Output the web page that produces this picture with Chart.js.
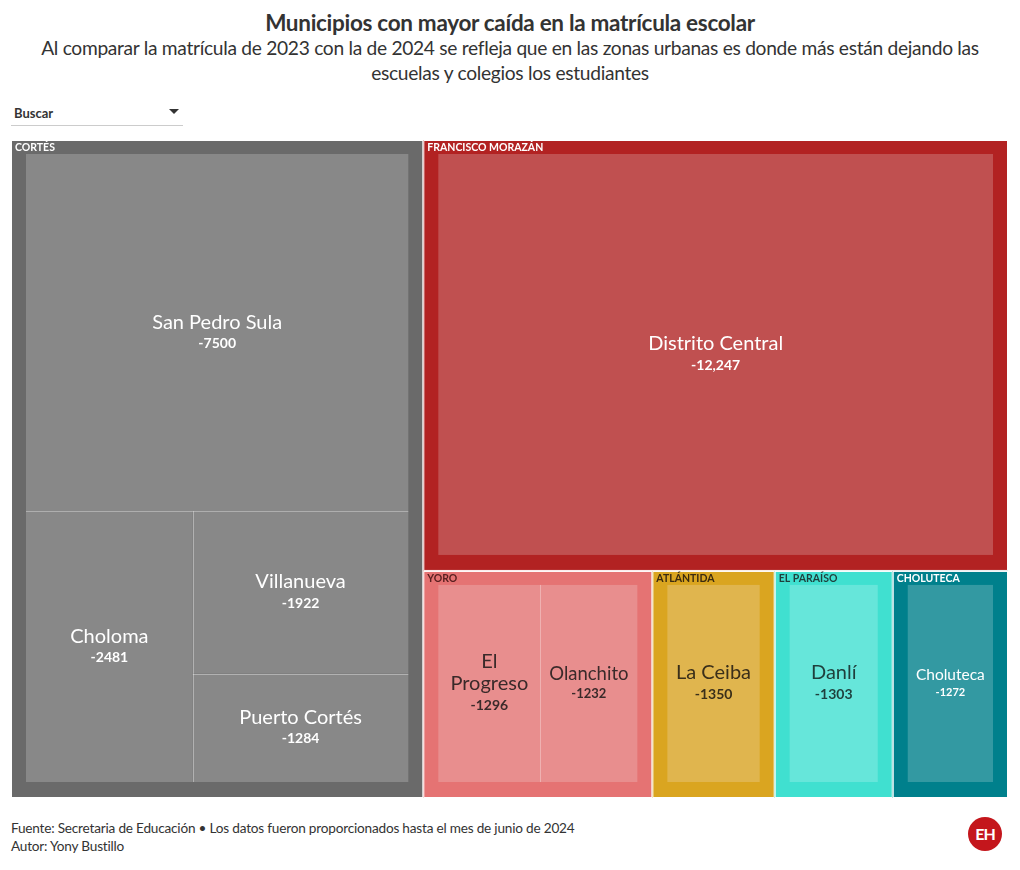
<!DOCTYPE html>
<html>
<head>
<meta charset="utf-8">
<script src="https://cdn.jsdelivr.net/npm/chart.js@4.4.1/dist/chart.umd.min.js"></script>
<style>
  body { margin: 0; background: #fff; font-family: Lato, "Noto Sans", sans-serif; color: #333; }
  #page { position: relative; width: 1020px; height: 870px; }
  #title { position: absolute; top: 9px; left: 0; width: 1020px; text-align: center; font-size: 22.5px; font-weight: bold; color: #333; letter-spacing: -0.3px; }
  #subtitle { position: absolute; top: 35px; left: 0; width: 1020px; text-align: center; font-size: 19.2px; line-height: 25px; color: #333; letter-spacing: -0.3px; }
  #search { position: absolute; top: 103px; left: 11px; width: 172px; height: 22px; border-bottom: 1px solid #ccc; font-size: 13px; font-weight: bold; }
  #search span { position: absolute; left: 3px; top: 2px; }
  #search i { position: absolute; right: 4px; top: 6px; width: 0; height: 0; border-left: 5px solid transparent; border-right: 5px solid transparent; border-top: 5px solid #333; }
  #wrap { position: absolute; left: 11px; top: 140px; width: 997px; height: 658px; }
  #footer { position: absolute; left: 11px; top: 819px; font-size: 13.6px; line-height: 18px; color: #333; letter-spacing: -0.2px; }
  #logo { position: absolute; left: 968px; top: 817px; width: 34px; height: 34px; border-radius: 50%; background: #c4161c; color: #fff; font-weight: bold; font-size: 16px; line-height: 34px; text-align: center; letter-spacing: -1px; }
</style>
</head>
<body>
<div id="page">
  <div id="title">Municipios con mayor caída en la matrícula escolar</div>
  <div id="subtitle">Al comparar la matrícula de 2023 con la de 2024 se refleja que en las zonas urbanas es donde más están dejando las<br>escuelas y colegios los estudiantes</div>
  <div id="search"><span>Buscar</span><i></i></div>
  <div id="wrap"><canvas id="chart"></canvas></div>
  <div id="footer">Fuente: Secretaria de Educación • Los datos fueron proporcionados hasta el mes de junio de 2024<br>Autor: Yony Bustillo</div>
  <div id="logo">EH</div>
</div>
<script>
const departments = ['Cortés', 'Francisco Morazán', 'Yoro', 'Atlántida', 'El Paraíso', 'Choluteca'];
const municipalities = ['San Pedro Sula', 'Choloma', 'Villanueva', 'Puerto Cortés', 'Distrito Central', 'El Progreso', 'Olanchito', 'La Ceiba', 'Danlí', 'Choluteca'];
const municipalityDept = ['Cortés', 'Cortés', 'Cortés', 'Cortés', 'Francisco Morazán', 'Yoro', 'Yoro', 'Atlántida', 'El Paraíso', 'Choluteca'];
const enrollmentDrop = [-7500, -2481, -1922, -1284, -12247, -1296, -1232, -1350, -1303, -1272];

const deptColors = ['#6a6a6a', '#b22222', '#e57373', '#daa520', '#40e0d0', '#00808c'];
const cellColors = ['#888888', '#c05050', '#e88e8e', '#e0b54e', '#66e6da', '#3399a2'];
const textColors = ['#ffffff', '#ffffff', '#3a2a2a', '#3a2f1a', '#1f3f3c', '#ffffff'];
const headerColors = ['#ffffff', '#ffffff', '#5a2020', '#3a2a10', '#1f3f3c', '#ffffff'];

const FONT = 'Lato, "Noto Sans", sans-serif';

function fmt(v) {
  const a = Math.abs(v);
  const s = a >= 10000 ? a.toLocaleString('en-US') : String(a);
  return (v < 0 ? '-' : '') + s;
}

// squarified layout, items need .v (positive), sorted descending
function squarify(items, rect) {
  const out = [];
  let { x, y, w, h } = rect;
  let rest = items.slice();
  let remaining = rest.reduce((a, b) => a + b.v, 0);
  while (rest.length) {
    const side = Math.min(w, h);
    const worst = row => {
      const s = row.reduce((a, b) => a + b.v, 0);
      const thick = (s / remaining) * (w * h) / side;
      return Math.max(...row.map(it => {
        const len = it.v / s * side;
        return Math.max(len / thick, thick / len);
      }));
    };
    let k = 1;
    while (k < rest.length && worst(rest.slice(0, k + 1)) <= worst(rest.slice(0, k))) k++;
    const row = rest.slice(0, k);
    const s = row.reduce((a, b) => a + b.v, 0);
    if (w < h) {
      const thick = s / remaining * h;
      let cx = x;
      row.forEach(it => {
        const cw = it.v / s * w;
        out.push({ item: it, x: cx, y: y, w: cw, h: thick });
        cx += cw;
      });
      y += thick; h -= thick;
    } else {
      const thick = s / remaining * w;
      let cy = y;
      row.forEach(it => {
        const ch = it.v / s * h;
        out.push({ item: it, x: x, y: cy, w: thick, h: ch });
        cy += ch;
      });
      x += thick; w -= thick;
    }
    remaining -= s;
    rest = rest.slice(k);
  }
  return out;
}

function fitLabel(ctx, text, maxW) {
  let size = 20;
  ctx.font = `${size}px ${FONT}`;
  if (ctx.measureText(text).width <= maxW) return { size, lines: [text] };
  const words = text.split(' ');
  if (words.length > 1 && words.every(wd => ctx.measureText(wd).width <= maxW)) {
    const lines = [];
    let cur = '';
    words.forEach(wd => {
      const t = cur ? cur + ' ' + wd : wd;
      if (ctx.measureText(t).width <= maxW) cur = t;
      else { lines.push(cur); cur = wd; }
    });
    lines.push(cur);
    return { size, lines };
  }
  while (size > 10) {
    size -= 0.5;
    ctx.font = `${size}px ${FONT}`;
    if (ctx.measureText(text).width <= maxW) break;
  }
  return { size, lines: [text] };
}

const treemapPlugin = {
  id: 'treemap',
  afterDatasetsDraw(chart) {
    const ctx = chart.ctx;
    const sx = chart.scales.x, sy = chart.scales.y;
    const left = sx.getPixelForValue(0), right = sx.getPixelForValue(1);
    const top = sy.getPixelForValue(1), bottom = sy.getPixelForValue(0);

    const groups = departments.map((d, i) => {
      const kids = [];
      municipalities.forEach((m, j) => {
        if (municipalityDept[j] === d) kids.push({ name: m, value: enrollmentDrop[j], v: Math.abs(enrollmentDrop[j]) });
      });
      kids.sort((a, b) => b.v - a.v);
      return { name: d, idx: i, kids, v: kids.reduce((a, b) => a + b.v, 0) };
    }).sort((a, b) => b.v - a.v);

    const groupRects = squarify(groups, { x: left, y: top, w: right - left, h: bottom - top });
    ctx.save();
    groupRects.forEach(gr => {
      const g = gr.item;
      ctx.fillStyle = deptColors[g.idx];
      ctx.fillRect(gr.x, gr.y, gr.w, gr.h);
      ctx.strokeStyle = '#ffffff';
      ctx.lineWidth = 1;
      ctx.strokeRect(gr.x + 0.5, gr.y + 0.5, gr.w - 1, gr.h - 1);

      ctx.fillStyle = headerColors[g.idx];
      ctx.font = `bold 10.5px ${FONT}`;
      ctx.textAlign = 'left';
      ctx.textBaseline = 'middle';
      ctx.fillText(g.name.toUpperCase(), gr.x + 4, gr.y + 7.5);

      const inner = { x: gr.x + 15, y: gr.y + 14, w: gr.w - 30, h: gr.h - 30 };
      const cells = squarify(g.kids, inner);
      cells.forEach(c => {
        ctx.fillStyle = cellColors[g.idx];
        ctx.fillRect(c.x, c.y, c.w, c.h);
      });
      // thin separators between neighbouring cells only
      ctx.strokeStyle = 'rgba(255,255,255,0.35)';
      ctx.lineWidth = 1;
      cells.forEach(c => {
        ctx.beginPath();
        if (c.x > inner.x + 1) {
          const px = Math.round(c.x) + 0.5;
          ctx.moveTo(px, c.y); ctx.lineTo(px, c.y + c.h);
        }
        if (c.y > inner.y + 1) {
          const py = Math.round(c.y) + 0.5;
          ctx.moveTo(c.x, py); ctx.lineTo(c.x + c.w, py);
        }
        ctx.stroke();
      });

      cells.forEach(c => {
        const lab = fitLabel(ctx, c.item.name, c.w - 16);
        const lineH = lab.size * 1.1;
        const valSize = Math.max(11, Math.round(lab.size * 0.72));
        const valH = valSize * 1.5;
        const blockH = lab.lines.length * lineH + valH;
        let yy = c.y + c.h / 2 - blockH / 2 + lineH / 2;
        ctx.fillStyle = textColors[g.idx];
        ctx.textAlign = 'center';
        ctx.font = `${lab.size}px ${FONT}`;
        lab.lines.forEach(l => {
          ctx.fillText(l, c.x + c.w / 2, yy);
          yy += lineH;
        });
        yy += (valH - lineH) / 2;
        ctx.font = `bold ${valSize}px ${FONT}`;
        ctx.fillText(fmt(c.item.value), c.x + c.w / 2, yy);
      });
    });
    ctx.restore();
  }
};

new Chart(document.getElementById('chart'), {
  type: 'scatter',
  data: { datasets: [{ data: [] }] },
  options: {
    responsive: true,
    maintainAspectRatio: false,
    animation: false,
    layout: { padding: 0 },
    scales: {
      x: { type: 'linear', min: 0, max: 1, display: false },
      y: { type: 'linear', min: 0, max: 1, display: false }
    },
    plugins: { legend: { display: false }, tooltip: { enabled: false } }
  },
  plugins: [treemapPlugin]
});
</script>
</body>
</html>
